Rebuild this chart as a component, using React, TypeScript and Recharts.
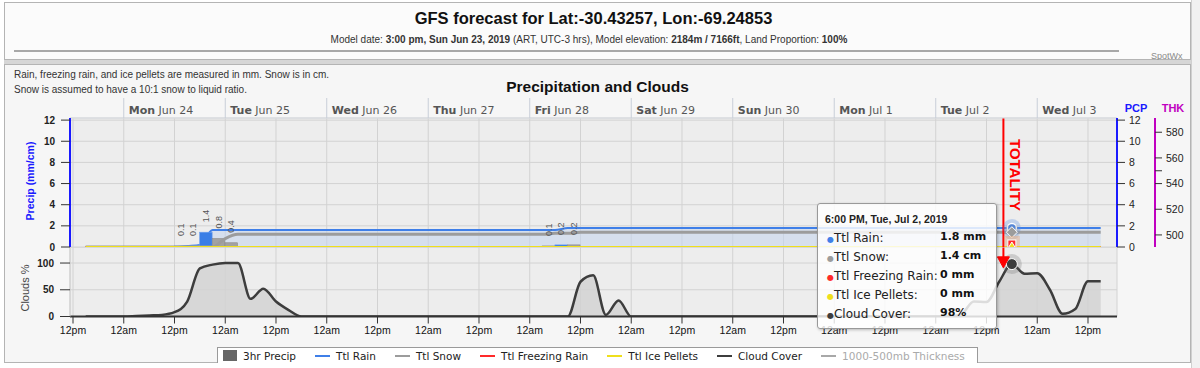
import React from 'react';
import {
  ComposedChart, Area, Line, Bar, XAxis, YAxis, CartesianGrid,
  ReferenceLine, ReferenceDot, LabelList,
} from 'recharts';

const FONT = '"Liberation Sans", Arial, Helvetica, sans-serif';
const FONT2 = '"DejaVu Sans", Verdana, sans-serif';

// ---- time axis: hours after 12pm Sun Jun 23 2019 (ART) ----
const forecastHours = [
  3, 6, 9, 12, 15, 18, 21, 24, 27, 30,
  33, 36, 39, 42, 45, 48, 51, 54, 57, 60,
  63, 66, 69, 72, 75, 78, 81, 84, 87, 90,
  93, 96, 99, 102, 105, 108, 111, 114, 117, 120,
  123, 126, 129, 132, 135, 138, 141, 144, 147, 150,
  153, 156, 159, 162, 165, 168, 171, 174, 177, 180,
  183, 186, 189, 192, 195, 198, 201, 204, 207, 210,
  213, 216, 219, 222, 225, 228, 231, 234, 237, 240,
  243,
];

// ---- cumulative series ----
const rainTotal = [
  0, 0, 0, 0, 0, 0, 0, 0, 0.1, 0.2,
  1.6, 1.6, 1.6, 1.6, 1.6, 1.6, 1.6, 1.6, 1.6, 1.6,
  1.6, 1.6, 1.6, 1.6, 1.6, 1.6, 1.6, 1.6, 1.6, 1.6,
  1.6, 1.6, 1.6, 1.6, 1.6, 1.6, 1.6, 1.6, 1.8, 1.8,
  1.8, 1.8, 1.8, 1.8, 1.8, 1.8, 1.8, 1.8, 1.8, 1.8,
  1.8, 1.8, 1.8, 1.8, 1.8, 1.8, 1.8, 1.8, 1.8, 1.8,
  1.8, 1.8, 1.8, 1.8, 1.8, 1.8, 1.8, 1.8, 1.8, 1.8,
  1.8, 1.8, 1.8, 1.8, 1.8, 1.8, 1.8, 1.8, 1.8, 1.8,
  1.8,
];
const snowTotal = [
  0, 0, 0, 0, 0, 0, 0, 0, 0, 0,
  0, 0.8, 1.2, 1.2, 1.2, 1.2, 1.2, 1.2, 1.2, 1.2,
  1.2, 1.2, 1.2, 1.2, 1.2, 1.2, 1.2, 1.2, 1.2, 1.2,
  1.2, 1.2, 1.2, 1.2, 1.2, 1.2, 1.2, 1.3, 1.3, 1.4,
  1.4, 1.4, 1.4, 1.4, 1.4, 1.4, 1.4, 1.4, 1.4, 1.4,
  1.4, 1.4, 1.4, 1.4, 1.4, 1.4, 1.4, 1.4, 1.4, 1.4,
  1.4, 1.4, 1.4, 1.4, 1.4, 1.4, 1.4, 1.4, 1.4, 1.4,
  1.4, 1.4, 1.4, 1.4, 1.4, 1.4, 1.4, 1.4, 1.4, 1.4,
  1.4,
];
const freezingRainTotal = [
  0, 0, 0, 0, 0, 0, 0, 0, 0, 0,
  0, 0, 0, 0, 0, 0, 0, 0, 0, 0,
  0, 0, 0, 0, 0, 0, 0, 0, 0, 0,
  0, 0, 0, 0, 0, 0, 0, 0, 0, 0,
  0, 0, 0, 0, 0, 0, 0, 0, 0, 0,
  0, 0, 0, 0, 0, 0, 0, 0, 0, 0,
  0, 0, 0, 0, 0, 0, 0, 0, 0, 0,
  0, 0, 0, 0, 0, 0, 0, 0, 0, 0,
  0,
];
const icePelletsTotal = [
  0, 0, 0, 0, 0, 0, 0, 0, 0, 0,
  0, 0, 0, 0, 0, 0, 0, 0, 0, 0,
  0, 0, 0, 0, 0, 0, 0, 0, 0, 0,
  0, 0, 0, 0, 0, 0, 0, 0, 0, 0,
  0, 0, 0, 0, 0, 0, 0, 0, 0, 0,
  0, 0, 0, 0, 0, 0, 0, 0, 0, 0,
  0, 0, 0, 0, 0, 0, 0, 0, 0, 0,
  0, 0, 0, 0, 0, 0, 0, 0, 0, 0,
  0,
];
const cloudCover = [
  0, 0, 0, 0, 1, 2, 3, 8, 28, 90,
  97, 100, 100, 33, 52, 28, 12, 0, 0, 0,
  0, 0, 0, 0, 0, 0, 0, 0, 0, 0,
  0, 0, 0, 0, 0, 0, 0, 0, 0, 65,
  77, 3, 30, 0, 0, 0, 0, 0, 0, 0,
  0, 0, 0, 0, 0, 0, 0, 0, 0, 0,
  0, 0, 0, 0, 0, 0, 0, 0, 0, 4,
  28, 27, 65, 98, 80, 81, 50, 5, 14, 66,
  66,
];

// ---- 3hr precip bars (centre of each 3h interval) ----
const barHours = [25.5, 28.5, 31.5, 34.5, 37.5, 112.5, 115.5, 118.5];
const rainBars = [0.1, 0.1, 1.4, 0, 0, 0, 0.2, 0];
const snowBars = [0, 0, 0, 0.8, 0.4, 0.1, 0, 0.2];

// ---- axes ----
const X_DOMAIN: [number, number] = [-0.71, 246.86];
const halfDayTicks = [0, 12, 24, 36, 48, 60, 72, 84, 96, 108, 120, 132, 144, 156, 168, 180, 192, 204, 216, 228, 240];
const halfDayLabels = ['12pm', '12am', '12pm', '12am', '12pm', '12am', '12pm', '12am', '12pm', '12am', '12pm',
  '12am', '12pm', '12am', '12pm', '12am', '12pm', '12am', '12pm', '12am', '12pm'];
const dayTicks = [12, 36, 60, 84, 108, 132, 156, 180, 204, 228];
const dayLabels = ['Mon Jun 24', 'Tue Jun 25', 'Wed Jun 26', 'Thu Jun 27', 'Fri Jun 28', 'Sat Jun 29',
  'Sun Jun 30', 'Mon Jul 1', 'Tue Jul 2', 'Wed Jul 3'];
const pcpTicks = [0, 2, 4, 6, 8, 10, 12];
const thkTicks = [500, 520, 540, 550, 560, 580];
const thkLabels = ['500', '520', '540', '', '560', '580'];
const cloudTicks = [0, 50, 100];

const TOTALITY_HOUR = 220;
const HOVER_INDEX = 73;
const HOVER_HOUR = forecastHours[HOVER_INDEX];
const tooltipTitle = '6:00 PM, Tue, Jul 2, 2019';

const legendNames = ['3hr Precip', 'Ttl Rain', 'Ttl Snow', 'Ttl Freezing Rain', 'Ttl Ice Pellets', 'Cloud Cover', '1000-500mb Thickness'];

const C = {
  rain: '#3f7fe8', snow: '#9c9c9c', fzra: '#ff2a2a', ipel: '#efdf1c', cloud: '#3d3d3d',
  precipBar: '#666666', thk: '#a8a8a8',
};
const legendStyle: Record<string, { color: string; square?: boolean; off?: boolean }> = {
  '3hr Precip': { color: C.precipBar, square: true },
  'Ttl Rain': { color: C.rain },
  'Ttl Snow': { color: C.snow },
  'Ttl Freezing Rain': { color: C.fzra },
  'Ttl Ice Pellets': { color: C.ipel },
  'Cloud Cover': { color: C.cloud },
  '1000-500mb Thickness': { color: C.thk, off: true },
};

type Row = { h: number; rain?: number | null; snow?: number | null; fzra?: number | null; ipel?: number | null; cloud?: number | null; rainBar?: number; snowBar?: number };
const rows: Row[] = [
  ...forecastHours.map((h, i) => ({
    h, rain: rainTotal[i], snow: snowTotal[i], fzra: freezingRainTotal[i], ipel: icePelletsTotal[i], cloud: cloudCover[i],
  })),
  ...barHours.map((h, k) => ({ h, rain: null, snow: null, fzra: null, ipel: null, cloud: null, rainBar: rainBars[k], snowBar: snowBars[k] })),
].sort((a, b) => a.h - b.h);

const isHover = (p: any) => p && p.payload && p.payload.h === HOVER_HOUR && p.cx != null && p.cy != null && !isNaN(p.cy);

const RainDot = (p: any) => isHover(p) ? (
  <g key={`rd${p.index}`}>
    <circle cx={p.cx} cy={p.cy} r={9} fill="#5b8fe6" fillOpacity={0.3} />
    <circle cx={p.cx} cy={p.cy} r={4.5} fill={C.rain} stroke="#fff" strokeWidth={1.5} />
  </g>) : <g key={`rd${p.index}`} />;
const SnowDot = (p: any) => isHover(p) ? (
  <g key={`sd${p.index}`}>
    <circle cx={p.cx} cy={p.cy} r={8} fill="#999" fillOpacity={0.25} />
    <path d={`M${p.cx},${p.cy - 5.5}L${p.cx + 5.5},${p.cy}L${p.cx},${p.cy + 5.5}L${p.cx - 5.5},${p.cy}Z`} fill={C.snow} stroke="#fff" strokeWidth={1} />
  </g>) : <g key={`sd${p.index}`} />;
const FzraDot = (p: any) => isHover(p) ? (
  <g key={`fd${p.index}`}>
    <rect x={p.cx - 8} y={p.cy - 11} width={16} height={16} fill="#f7a060" fillOpacity={0.35} />
    <rect x={p.cx - 4} y={p.cy - 7} width={8} height={8} fill={C.fzra} stroke="#fff" strokeWidth={1} />
  </g>) : <g key={`fd${p.index}`} />;
const IpelDot = (p: any) => isHover(p) ? (
  <g key={`id${p.index}`}>
    <path d={`M${p.cx},${p.cy - 5}L${p.cx + 5.5},${p.cy + 4}L${p.cx - 5.5},${p.cy + 4}Z`} fill={C.ipel} stroke="#fff" strokeWidth={1} />
  </g>) : <g key={`id${p.index}`} />;
const CloudDot = (p: any) => isHover(p) ? (
  <g key={`cd${p.index}`}>
    <circle cx={p.cx} cy={p.cy} r={10} fill="#666" fillOpacity={0.25} />
    <circle cx={p.cx} cy={p.cy} r={5.5} fill={C.cloud} stroke="#fff" strokeWidth={1} />
  </g>) : <g key={`cd${p.index}`} />;

// 3-hour bars are drawn as wide as one 3h step, centred on the interval
const BAR_W = 12.5;
const makeBarShape = (fill: string, edge: string) => (p: any) => {
  if (!p.height || p.height <= 0) return <g />;
  const cx = p.x + p.width / 2;
  return <rect x={cx - BAR_W / 2} y={p.y} width={BAR_W} height={p.height} fill={fill} stroke={edge} strokeWidth={0.6} />;
};
const RainBarShape = makeBarShape('#3a7ee6', '#6fa0ee');
const SnowBarShape = makeBarShape('#a2a2a2', '#8a8a8a');

const barLabel = (p: any) => {
  const v = Number(p.value);
  if (!v) return <g />;
  const cx = p.x + p.width / 2 + 3.2;
  const y0 = p.y - 10;
  return (
    <text x={cx} y={y0} transform={`rotate(-90 ${cx} ${y0})`} fontSize={9} fill="#555" textAnchor="start">{v}</text>
  );
};

const DayTick = (p: any) => {
  const idx = dayTicks.indexOf(p.payload.value);
  const label = dayLabels[idx] || '';
  const sp = label.indexOf(' ');
  return (
    <text x={p.x + 5} y={p.y + 12} dy="0.35em" fontSize={11} fill="#555" fontFamily={FONT2}>
      <tspan fontWeight="bold">{label.slice(0, sp)}</tspan>
      <tspan>{label.slice(sp)}</tspan>
    </text>
  );
};

const TotalityLabel = (p: any) => {
  const vb = p.viewBox || {};
  const cx = vb.x + 12;
  const cy = vb.y + 57;
  return (
    <text x={cx} y={cy} transform={`rotate(90 ${cx} ${cy})`} textAnchor="middle" dominantBaseline="central"
      fill="#ff0000" fontWeight="bold" fontSize={15}>TOTALITY</text>
  );
};

const ArrowHead = (p: any) => (
  <path d={`M${p.cx},${p.cy}L${p.cx + 6},${p.cy - 11}L${p.cx - 6},${p.cy - 11}Z`} fill="#ff0000" stroke="#ff0000" strokeWidth={1} />
);

const abs = (s: React.CSSProperties): React.CSSProperties => ({ position: 'absolute', ...s });

export default function App() {
  const tipRows = [
    { label: 'Ttl Rain:', value: `${rainTotal[HOVER_INDEX]} mm`, color: C.rain },
    { label: 'Ttl Snow:', value: `${snowTotal[HOVER_INDEX]} cm`, color: C.snow },
    { label: 'Ttl Freezing Rain:', value: `${freezingRainTotal[HOVER_INDEX]} mm`, color: C.fzra },
    { label: 'Ttl Ice Pellets:', value: `${icePelletsTotal[HOVER_INDEX]} mm`, color: C.ipel },
    { label: 'Cloud Cover:', value: `${cloudCover[HOVER_INDEX]}%`, color: C.cloud },
  ];
  return (
    <div style={abs({ left: 0, top: 0, width: 1200, height: 368, background: '#ffffff', fontFamily: FONT, overflow: 'hidden' })}>
      {/* header box */}
      <div style={abs({ left: 4, top: 2, width: 1187, height: 58, boxSizing: 'border-box', border: '1px solid #b4b4b4', background: '#fbfbfb' })} />
      <div style={abs({ left: 0, top: 8, width: 1187, textAlign: 'center', fontSize: 16.5, fontWeight: 'bold', color: '#111', lineHeight: '20px' })}>
        GFS forecast for Lat:-30.43257, Lon:-69.24853
      </div>
      <div style={abs({ left: 0, top: 34, width: 1178, textAlign: 'center', fontSize: 10, color: '#333', lineHeight: '12px', whiteSpace: 'nowrap' })}>
        Model date: <b>3:00 pm, Sun Jun 23, 2019</b> (ART, UTC-3 hrs), Model elevation: <b>2184m / 7166ft</b>, Land Proportion: <b>100%</b>
      </div>
      <div style={abs({ left: 14, top: 50, width: 1105, height: 2, background: '#a8a8a8' })} />
      <div style={abs({ left: 1151, top: 51, fontSize: 9, color: '#8a8a8a', lineHeight: '11px' })}>SpotWx</div>
      <div style={abs({ left: 4, top: 60, width: 1187, height: 4, background: '#d6d6d6' })} />
      <div style={abs({ left: 1191, top: 0, width: 9, height: 368, background: '#f1f1f1', borderLeft: '1px solid #d0d0d0' })} />

      {/* chart frame */}
      <div style={abs({ left: 4, top: 64, width: 1187, height: 299, boxSizing: 'border-box', border: '1px solid #b4b4b4', background: '#f6f6f6' })} />
      <div style={abs({ left: 14, top: 68, fontSize: 10, color: '#333', lineHeight: '14px', whiteSpace: 'nowrap' })}>
        Rain, freezing rain, and ice pellets are measured in mm. Snow is in cm.
      </div>
      <div style={abs({ left: 14, top: 82.5, fontSize: 10, color: '#333', lineHeight: '14px', whiteSpace: 'nowrap' })}>
        Snow is assumed to have a 10:1 snow to liquid ratio.
      </div>
      <div style={abs({ left: 0, top: 78, width: 1195, textAlign: 'center', fontSize: 15.5, fontWeight: 'bold', color: '#111', lineHeight: '18px' })}>
        Precipitation and Clouds
      </div>

      {/* cloud panel (below) */}
      <div style={abs({ left: 0, top: 0 })}>
        <ComposedChart width={1200} height={368} data={rows} margin={{ top: 247, right: 83, bottom: 21.5, left: 30 }}>
          <CartesianGrid xAxisId="t" yAxisId="c" stroke="#d2d2d2" fill="#ededed" fillOpacity={1} />
          <XAxis xAxisId="t" dataKey="h" type="number" domain={X_DOMAIN} ticks={halfDayTicks} interval={0}
            tickFormatter={(v: any, i: number) => halfDayLabels[i]} height={30} allowDataOverflow
            axisLine={{ stroke: '#333', strokeWidth: 2 }} tickLine={{ stroke: '#333' }} tickSize={7} tickMargin={3}
            tick={{ fontSize: 10.5, fill: '#111' }} />
          <YAxis yAxisId="c" domain={[0, 130]} ticks={cloudTicks} width={40} allowDataOverflow interval={0}
            axisLine={{ stroke: '#cfcfcf' }} tickLine={{ stroke: '#333' }} tickSize={10} tickMargin={6}
            tick={{ fontSize: 10, fontWeight: 'bold', fill: '#222' }} />
          <Area xAxisId="t" yAxisId="c" dataKey="cloud" type="monotone" connectNulls stroke={C.cloud} strokeWidth={2.5}
            fill="#d2d2d2" fillOpacity={0.85} dot={CloudDot} activeDot={false} isAnimationActive={false} />
          <ReferenceLine xAxisId="t" yAxisId="c" segment={[{ x: TOTALITY_HOUR, y: 130 }, { x: TOTALITY_HOUR, y: 95 }]}
            stroke="#ff0000" strokeWidth={2} ifOverflow="visible" />
          <ReferenceDot xAxisId="t" yAxisId="c" x={TOTALITY_HOUR} y={91} shape={ArrowHead} ifOverflow="visible" />
        </ComposedChart>
      </div>

      {/* precip panel (above) */}
      <div style={abs({ left: 0, top: 0 })}>
        <ComposedChart width={1200} height={260} data={rows} margin={{ top: 98, right: 5, bottom: 13, left: 30 }}>
          <CartesianGrid xAxisId="t" yAxisId="pcp" stroke="#d2d2d2" fill="#ededed" fillOpacity={1} />
          <XAxis xAxisId="t" dataKey="h" type="number" domain={X_DOMAIN} ticks={halfDayTicks} interval={0} hide allowDataOverflow />
          <XAxis xAxisId="days" orientation="top" dataKey="h" type="number" domain={X_DOMAIN} ticks={dayTicks} interval={0}
            height={20} tickSize={20} tickMargin={0} allowDataOverflow
            axisLine={{ stroke: '#d9dde3' }} tickLine={{ stroke: '#c8ced8' }} tick={<DayTick />} />
          <YAxis yAxisId="pcp" domain={[0, 12.2]} ticks={pcpTicks} width={40} allowDataOverflow interval={0}
            axisLine={{ stroke: '#1a1aff', strokeWidth: 2 }} tickLine={{ stroke: '#333' }} tickSize={9} tickMargin={6}
            tick={{ fontSize: 10, fontWeight: 'bold', fill: '#222' }} />
          <YAxis yAxisId="pcpR" orientation="right" domain={[0, 12.2]} ticks={pcpTicks} width={38} allowDataOverflow interval={0}
            axisLine={{ stroke: '#1a1aff', strokeWidth: 2 }} tickLine={{ stroke: '#333' }} tickSize={8} tickMargin={4}
            tick={{ fontSize: 10.5, fill: '#222' }} />
          <YAxis yAxisId="thk" orientation="right" domain={[490.6, 591.1]} ticks={thkTicks} width={40} allowDataOverflow interval={0}
            tickFormatter={(v: any, i: number) => thkLabels[i]}
            axisLine={{ stroke: '#c000c0', strokeWidth: 2 }} tickLine={{ stroke: '#333' }} tickSize={7} tickMargin={4}
            tick={{ fontSize: 10.5, fill: '#222' }} />
          <Area xAxisId="t" yAxisId="pcp" dataKey="rain" type="monotone" connectNulls stroke={C.rain} strokeWidth={2}
            fill="#c6d6ec" fillOpacity={0.6} dot={RainDot} activeDot={false} isAnimationActive={false} />
          <Line xAxisId="t" yAxisId="pcp" dataKey="snow" type="monotone" connectNulls stroke={C.snow} strokeWidth={3}
            dot={SnowDot} activeDot={false} isAnimationActive={false} />
          <Line xAxisId="t" yAxisId="pcp" dataKey="fzra" type="monotone" connectNulls stroke={C.fzra} strokeWidth={2}
            dot={false} activeDot={false} isAnimationActive={false} />
          <Line xAxisId="t" yAxisId="pcp" dataKey="ipel" type="monotone" connectNulls stroke={C.ipel} strokeWidth={2}
            dot={false} activeDot={false} isAnimationActive={false} />
          <Bar xAxisId="t" yAxisId="pcp" dataKey="rainBar" stackId="b" barSize={12} fill="#3a7ee6" shape={RainBarShape} isAnimationActive={false}>
            <LabelList dataKey="rainBar" content={barLabel} />
          </Bar>
          <Bar xAxisId="t" yAxisId="pcp" dataKey="snowBar" stackId="b" barSize={12} fill="#a2a2a2" shape={SnowBarShape} isAnimationActive={false}>
            <LabelList dataKey="snowBar" content={barLabel} />
          </Bar>
          <ReferenceLine xAxisId="t" yAxisId="pcp" x={TOTALITY_HOUR} stroke="#ff0000" strokeWidth={2} ifOverflow="visible"
            label={<TotalityLabel />} />
          <Line xAxisId="t" yAxisId="pcp" dataKey="fzra" type="monotone" connectNulls stroke="none" strokeWidth={0}
            dot={FzraDot} activeDot={false} isAnimationActive={false} legendType="none" />
          <Line xAxisId="t" yAxisId="pcp" dataKey="ipel" type="monotone" connectNulls stroke="none" strokeWidth={0}
            dot={IpelDot} activeDot={false} isAnimationActive={false} legendType="none" />
        </ComposedChart>
      </div>

      {/* axis titles */}
      <svg width={1200} height={368} style={abs({ left: 0, top: 0, pointerEvents: 'none' })}>
        <text x={30} y={181} transform="rotate(-90 30 181)" textAnchor="middle" dominantBaseline="central"
          fill="#1a1aff" fontWeight="bold" fontSize={10.5}>Precip (mm/cm)</text>
        <text x={25} y={288} transform="rotate(-90 25 288)" textAnchor="middle" dominantBaseline="central"
          fill="#444" fontSize={11}>Clouds %</text>
        <text x={1136} y={108} textAnchor="middle" dominantBaseline="central" fill="#1a1aff" fontWeight="bold" fontSize={11}>PCP</text>
        <text x={1173} y={108} textAnchor="middle" dominantBaseline="central" fill="#c000c0" fontWeight="bold" fontSize={11}>THK</text>
      </svg>

      {/* legend */}
      <div style={abs({ left: 217, top: 347, width: 761, height: 16, boxSizing: 'border-box', border: '1px solid #9a9a9a', borderBottom: 'none', background: '#ffffff', display: 'flex', alignItems: 'center', paddingLeft: 5, fontFamily: FONT2, fontSize: 10.5, whiteSpace: 'nowrap', overflow: 'hidden' })}>
        {legendNames.map((n) => {
          const st = legendStyle[n];
          return (
            <div key={n} style={{ display: 'flex', alignItems: 'center', marginRight: 19 }}>
              {st.square
                ? <div style={{ width: 14, height: 11, background: st.color, marginRight: 6 }} />
                : <div style={{ width: 15, height: 2, background: st.color, marginRight: 6 }} />}
              <span style={{ color: st.off ? '#aaa' : '#222' }}>{n}</span>
            </div>
          );
        })}
      </div>

      {/* tooltip */}
      <div style={abs({ left: 817, top: 203, width: 180, height: 126, boxSizing: 'border-box', border: '1px solid #999', borderRadius: 3, background: 'rgba(255,255,255,0.82)', boxShadow: '1px 1px 3px rgba(0,0,0,0.25)' })}>
        <div style={abs({ left: 7, top: 8, fontSize: 10.5, fontWeight: 'bold', color: '#222', lineHeight: '14px', whiteSpace: 'nowrap' })}>{tooltipTitle}</div>
        {tipRows.map((r, k) => (
          <div key={r.label} style={abs({ left: 9, top: 25 + k * 18.9, height: 16, lineHeight: '16px', width: 168, whiteSpace: 'nowrap', fontFamily: FONT2 })}>
            <span style={{ color: r.color, fontSize: 8 }}>●</span>
            <span style={{ fontSize: 12, color: '#222' }}>{r.label}</span>
            <span style={abs({ left: 113, top: 0, fontSize: 11, fontWeight: 'bold', color: '#111' })}>{r.value}</span>
          </div>
        ))}
      </div>
    </div>
  );
}
